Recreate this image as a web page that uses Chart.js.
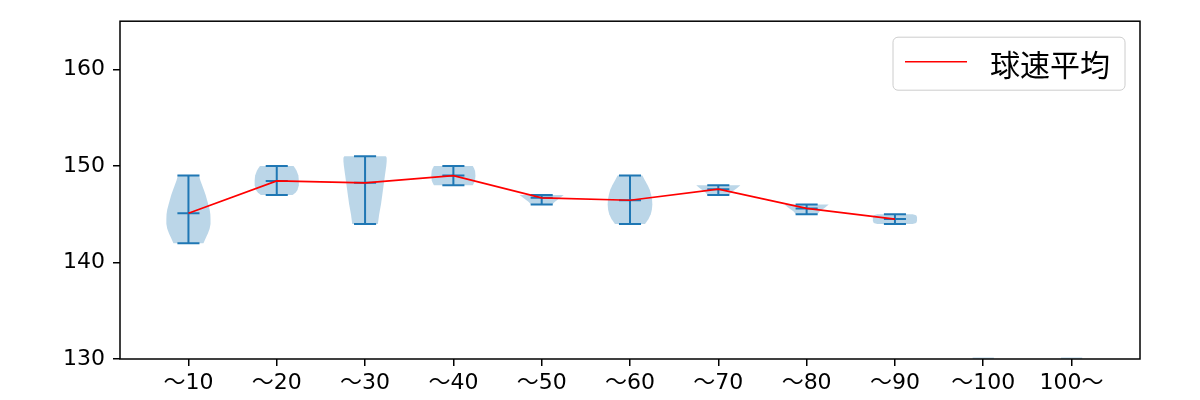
<!DOCTYPE html>
<html>
<head>
<meta charset="utf-8">
<script src="https://cdn.jsdelivr.net/npm/chart.js@4.4.1/dist/chart.umd.min.js"></script>
<style>
  html, body { margin: 0; padding: 0; background: #fff; }
  #wrap { width: 1200px; height: 400px; }
</style>
</head>
<body>
<div id="wrap"><canvas id="speedChart"></canvas></div>
<script>
const categories = ["～10", "～20", "～30", "～40", "～50", "～60", "～70", "～80", "～90", "～100", "100～"];
const meanSpeed = [145.1, 148.45, 148.25, 149.0, 146.7, 146.45, 147.6, 145.6, 144.5, null, null];
const minSpeed = [142, 147, 144, 148, 146, 144, 147, 145, 144, null, null];
const maxSpeed = [149, 150, 151, 150, 147, 149, 148, 146, 145, null, null];

// violin outlines: speed levels and half widths (category units)
const violinLevels = [
  [142, 142.5, 143, 143.5, 144, 144.5, 145, 145.5, 146, 146.5, 147, 147.5, 148, 148.5, 149],
  [147, 147.25, 147.5, 148, 148.5, 149, 149.5, 149.75, 150],
  [144, 145, 146, 147, 148, 149, 150, 150.5, 150.85, 151],
  [148, 148.25, 148.5, 149, 149.5, 149.75, 150],
  [146, 146.3, 146.7, 147],
  [144, 144.5, 145, 145.5, 146, 146.5, 147, 147.5, 148, 148.5, 149],
  [147, 147.3, 147.7, 148],
  [145, 145.3, 145.7, 146],
  [144, 144.1, 144.3, 144.7, 144.9, 145],
  [129, 130.15],
  [129, 130.15]
];
const violinWidths = [
  [0.17, 0.195, 0.22, 0.24, 0.25, 0.25, 0.248, 0.24, 0.225, 0.21, 0.195, 0.175, 0.155, 0.135, 0.12],
  [0.18, 0.215, 0.235, 0.25, 0.25, 0.245, 0.225, 0.21, 0.19],
  [0.145, 0.16, 0.18, 0.195, 0.21, 0.225, 0.24, 0.245, 0.245, 0.235],
  [0.22, 0.235, 0.245, 0.25, 0.245, 0.235, 0.22],
  [0.12, 0.15, 0.21, 0.25],
  [0.17, 0.21, 0.235, 0.248, 0.253, 0.25, 0.24, 0.225, 0.2, 0.17, 0.14],
  [0.12, 0.15, 0.21, 0.25],
  [0.12, 0.15, 0.21, 0.25],
  [0.2, 0.24, 0.25, 0.25, 0.24, 0.2],
  [0.12, 0.12],
  [0.12, 0.12]
];
const yTicks = [130, 140, 150, 160];

const BLUE = "#1f77b4";
const TICK_FONT = "'DejaVu Sans', 'Noto Sans CJK JP', sans-serif";
const LEGEND_FONT = "'Noto Sans CJK JP', sans-serif";

const violinPlugin = {
  id: "violins",
  beforeDatasetsDraw(chart) {
    const ctx = chart.ctx;
    const xs = chart.scales.x;
    const ys = chart.scales.y;
    const area = chart.chartArea;
    ctx.save();
    ctx.beginPath();
    ctx.rect(area.left, area.top, area.right - area.left, area.bottom - area.top);
    ctx.clip();

    // bodies
    ctx.fillStyle = "rgba(31,119,180,0.3)";
    violinLevels.forEach((levels, i) => {
      const pos = i + 1;
      const widths = violinWidths[i];
      ctx.beginPath();
      levels.forEach((v, k) => {
        const px = xs.getPixelForValue(pos + widths[k]);
        const py = ys.getPixelForValue(v);
        if (k === 0) ctx.moveTo(px, py); else ctx.lineTo(px, py);
      });
      for (let k = levels.length - 1; k >= 0; k--) {
        ctx.lineTo(xs.getPixelForValue(pos - widths[k]), ys.getPixelForValue(levels[k]));
      }
      ctx.closePath();
      ctx.fill();
    });

    // stems, caps and means
    ctx.strokeStyle = BLUE;
    ctx.lineWidth = 2;
    const hline = (pos, v) => {
      const y = ys.getPixelForValue(v);
      ctx.beginPath();
      ctx.moveTo(xs.getPixelForValue(pos - 0.125), y);
      ctx.lineTo(xs.getPixelForValue(pos + 0.125), y);
      ctx.stroke();
    };
    categories.forEach((c, i) => {
      if (minSpeed[i] === null) return;
      const pos = i + 1;
      const x = xs.getPixelForValue(pos);
      ctx.beginPath();
      ctx.moveTo(x, ys.getPixelForValue(minSpeed[i]));
      ctx.lineTo(x, ys.getPixelForValue(maxSpeed[i]));
      ctx.stroke();
      hline(pos, minSpeed[i]);
      hline(pos, maxSpeed[i]);
      hline(pos, meanSpeed[i]);
    });
    ctx.restore();
  },
  afterDraw(chart) {
    const ctx = chart.ctx;
    const area = chart.chartArea;
    ctx.save();
    // frame
    ctx.strokeStyle = "#000";
    ctx.lineWidth = 1.5;
    ctx.strokeRect(area.left, area.top, area.right - area.left, area.bottom - area.top);

    // legend
    const ds = chart.data.datasets[0];
    const bw = 232, bh = 53;
    const bx = area.right - 15 - bw;
    const by = area.top + 16;
    ctx.beginPath();
    ctx.roundRect(bx, by, bw, bh, 5);
    ctx.fillStyle = "rgba(255,255,255,0.8)";
    ctx.fill();
    ctx.strokeStyle = "#cccccc";
    ctx.lineWidth = 1;
    ctx.stroke();

    const ly = by + bh / 2 - 2;
    ctx.beginPath();
    ctx.moveTo(bx + 12, ly);
    ctx.lineTo(bx + 74, ly);
    ctx.strokeStyle = ds.borderColor;
    ctx.lineWidth = 1.5;
    ctx.stroke();

    ctx.fillStyle = "#000";
    ctx.font = "30px " + LEGEND_FONT;
    ctx.textBaseline = "middle";
    ctx.textAlign = "left";
    ctx.fillText(ds.label, bx + 97, by + bh / 2 + 1);
    ctx.restore();
  }
};

new Chart(document.getElementById("speedChart"), {
  type: "line",
  data: {
    datasets: [
      {
        label: "球速平均",
        data: meanSpeed
          .map((m, i) => ({ x: i + 1, y: m }))
          .filter((p) => p.y !== null),
        borderColor: "#ff0000",
        backgroundColor: "transparent",
        borderWidth: 1.7,
        pointRadius: 0,
        tension: 0
      }
    ]
  },
  options: {
    responsive: true,
    maintainAspectRatio: false,
    animation: false,
    layout: { padding: { top: 19, right: 60, left: 0, bottom: 0 } },
    plugins: {
      legend: { display: false },
      tooltip: { enabled: false }
    },
    scales: {
      x: {
        type: "linear",
        min: 0.225,
        max: 11.775,
        afterBuildTicks: (axis) => {
          axis.ticks = categories.map((c, i) => ({ value: i + 1 }));
        },
        afterFit: (axis) => { axis.height = 41; },
        border: { display: false },
        grid: {
          drawOnChartArea: false,
          drawTicks: true,
          tickLength: 7,
          color: "#000",
          lineWidth: 1.5
        },
        ticks: {
          autoSkip: false,
          maxRotation: 0,
          padding: 4,
          color: "#000",
          font: { family: TICK_FONT, size: 22 },
          callback: (v) => categories[Math.round(v) - 1]
        }
      },
      y: {
        min: 130,
        max: 165,
        afterBuildTicks: (axis) => {
          axis.ticks = yTicks.map((v) => ({ value: v }));
        },
        afterFit: (axis) => { axis.width = 120; },
        border: { display: false },
        grid: {
          drawOnChartArea: false,
          drawTicks: true,
          tickLength: 7,
          color: "#000",
          lineWidth: 1.5
        },
        ticks: {
          padding: 8,
          color: "#000",
          font: { family: TICK_FONT, size: 22 }
        }
      }
    }
  },
  plugins: [violinPlugin]
});
</script>
</body>
</html>
